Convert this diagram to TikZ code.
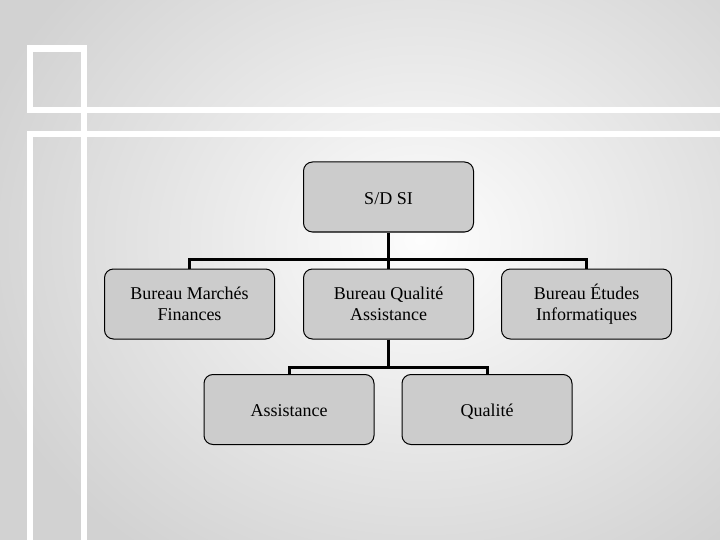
\documentclass[tikz,border=0pt]{standalone}
\usepackage{fontspec}
\setmainfont{Liberation Serif}
\begin{document}
\begin{tikzpicture}[x=1pt,y=-1pt,
  box/.style={draw=black,line width=1pt,fill=boxgrey,rounded corners=9pt,
    minimum width=170pt,minimum height=70pt,align=center,
    font=\fontsize{18}{21}\selectfont,inner sep=0pt},
  oneline/.style={text height=14.5pt,text depth=0pt},
  conn/.style={line width=3pt,black},
  frame/.style={fill=white,draw=none}]
\definecolor{boxgrey}{HTML}{CCCCCC}
\definecolor{edgegrey}{HTML}{D2D2D2}
\definecolor{centergrey}{HTML}{FDFDFD}
\useasboundingbox (0,0) rectangle (720,540);
\begin{scope}
\clip (0,0) rectangle (720,540);
\shade[inner color=centergrey,outer color=edgegrey] (-40,-150) rectangle (880,630);
\end{scope}
% white frame bands
\fill[frame] (27,45) rectangle (87,52);
\fill[frame] (27,45) rectangle (33,113);
\fill[frame] (81,45) rectangle (87,540);
\fill[frame] (27,107) rectangle (720,113);
\fill[frame] (27,131) rectangle (720,137);
\fill[frame] (27,131) rectangle (33,540);
% nodes
\node[box,oneline] (sd) at (388.5,197) {S/D SI};
\node[box] (bm) at (189.5,304) {Bureau Marchés\\Finances};
\node[box] (bq) at (388.5,304) {Bureau Qualité\\Assistance};
\node[box] (be) at (586.5,304) {Bureau Études\\Informatiques};
\node[box,oneline] (as) at (289,409.5) {Assistance};
\node[box,oneline] (qu) at (487,409.5) {Qualité};
% connectors
\coordinate (h1) at (388.5,259);
\coordinate (h2) at (388.5,367);
\draw[conn] (sd.south) -- (h1);
\draw[conn] (bm.north) |- (h1) -| (be.north);
\draw[conn] (h1) -- (bq.north);
\draw[conn] (bq.south) -- (h2);
\draw[conn] (as.north) |- (h2) -| (qu.north);
\end{tikzpicture}
\end{document}
